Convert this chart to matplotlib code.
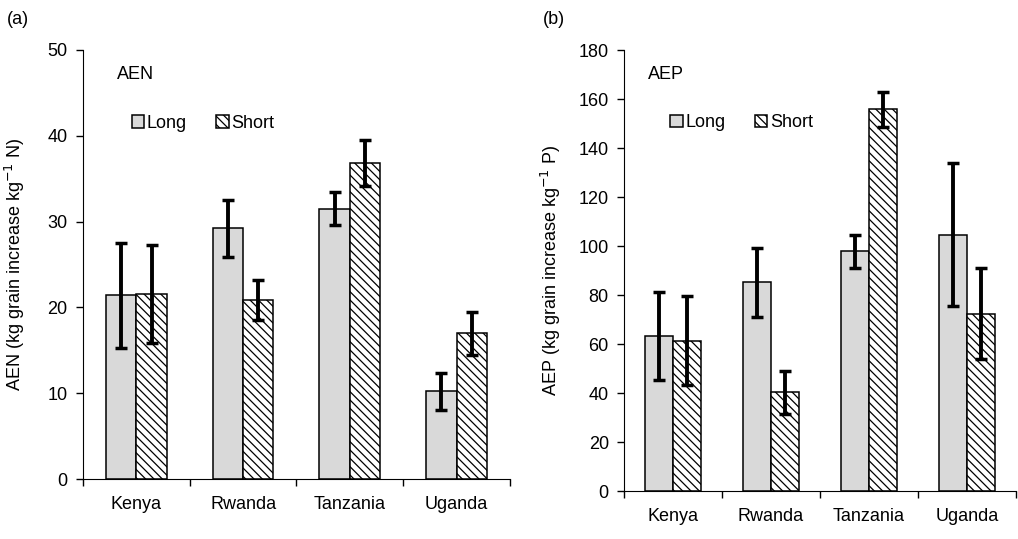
import matplotlib.pyplot as plt
import numpy as np

plt.rcParams['font.family'] = ['Liberation Sans', 'DejaVu Sans']
plt.rcParams['hatch.linewidth'] = 0.9

countries = ["Kenya", "Rwanda", "Tanzania", "Uganda"]

aen_long = [21.4, 29.2, 31.5, 10.2]
aen_long_err = [6.1, 3.3, 1.9, 2.15]
aen_short = [21.6, 20.9, 36.8, 17.0]
aen_short_err = [5.7, 2.35, 2.7, 2.5]

aep_long = [63.3, 85.2, 97.9, 104.7]
aep_long_err = [17.8, 14.1, 6.7, 29.3]
aep_short = [61.3, 40.4, 155.8, 72.4]
aep_short_err = [18.2, 8.8, 7.0, 18.7]


def draw_panel(ax, long_vals, long_err, short_vals, short_err, ymax, ystep, name, unit,
               letter, letter_x, label_x, name_pos, leg_pos):
    x = np.arange(len(countries))
    w = 0.285
    ax.bar(x - w / 2, long_vals, w, color='#d9d9d9', edgecolor='black', linewidth=1.1, label='Long', zorder=2)
    ax.bar(x + w / 2, short_vals, w, color='white', edgecolor='black', linewidth=1.1,
           hatch='\\\\\\\\', label='Short', zorder=2)
    ax.errorbar(x - w / 2, long_vals, yerr=long_err, fmt='none', ecolor='black', elinewidth=2.8,
                capsize=4, capthick=2.5, zorder=3)
    ax.errorbar(x + w / 2, short_vals, yerr=short_err, fmt='none', ecolor='black', elinewidth=2.8,
                capsize=4, capthick=2.5, zorder=3)

    ax.set_xlim(-0.5, len(countries) - 0.5)
    ax.set_ylim(0, ymax)
    ax.set_yticks(np.arange(0, ymax + 1, ystep))
    ax.set_xticks(x)
    ax.set_xticklabels(countries, fontsize=13)
    ax.tick_params(axis='x', length=0, pad=12)
    ax.set_xticks(np.arange(0, len(countries) + 1) - 0.5, minor=True)
    ax.tick_params(axis='x', which='minor', length=5, width=1)
    ax.tick_params(axis='y', labelsize=13, length=5, width=1, pad=6)
    ax.spines['top'].set_visible(False)
    ax.spines['right'].set_visible(False)
    ax.set_ylabel(name + r' (kg grain increase kg$^{-1}$ ' + unit + ')', fontsize=13)
    ax.yaxis.set_label_coords(label_x, 0.5)
    ax.text(name_pos[0], name_pos[1], name, transform=ax.transAxes, fontsize=13, va='center')
    ax.legend(loc='center left', bbox_to_anchor=leg_pos, frameon=False, ncol=2, fontsize=13,
              handlelength=0.7, handleheight=0.7, handletextpad=0.15, columnspacing=1.6,
              borderaxespad=0, borderpad=0)
    ax.figure.text(letter_x, 0.955, letter, fontsize=13)


fig = plt.figure(figsize=(10.18, 5.39), dpi=100)
ax1 = fig.add_axes([0.0815, 0.1113, 0.4194, 0.796])
ax2 = fig.add_axes([0.613, 0.089, 0.385, 0.818])

draw_panel(ax1, aen_long, aen_long_err, aen_short, aen_short_err, 50, 10, 'AEN', 'N',
           '(a)', 0.007, -0.131, (0.08, 0.942), (0.114, 0.829))
draw_panel(ax2, aep_long, aep_long_err, aep_short, aep_short_err, 180, 20, 'AEP', 'P',
           '(b)', 0.533, -0.155, (0.06, 0.945), (0.118, 0.835))

plt.savefig('out.png', dpi=100)
